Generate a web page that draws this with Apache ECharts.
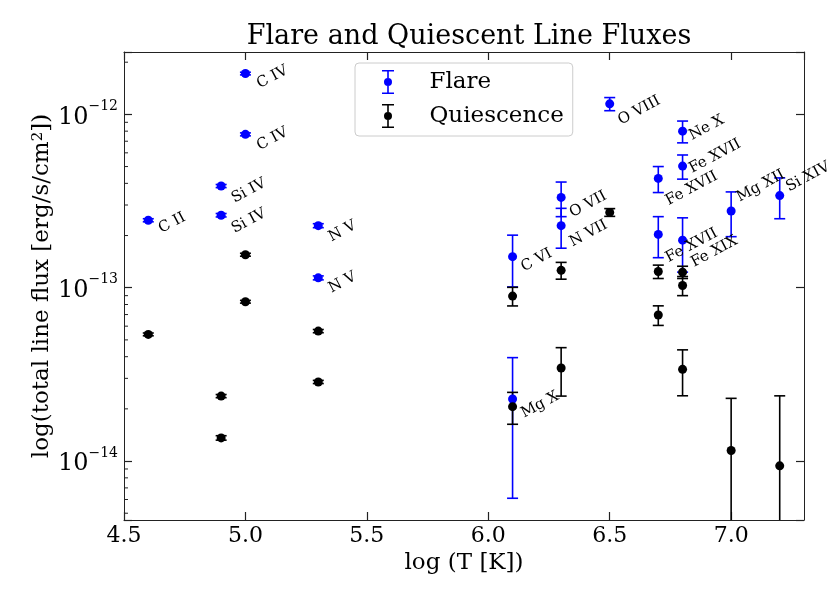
<!DOCTYPE html>
<html>
<head>
<meta charset="utf-8">
<title>Flare and Quiescent Line Fluxes</title>
<script src="https://cdn.jsdelivr.net/npm/echarts@6.0.0/dist/echarts.min.js"></script>
<style>
  html, body { margin: 0; padding: 0; background: #fff; }
  #main { width: 830px; height: 598px; }
</style>
</head>
<body>
<div id="main"></div>
<script>
// flare lines: temperature, flux, error, ion
var flareT = [4.6, 4.9, 4.9, 5.0, 5.0, 5.3, 5.3, 6.1, 6.1, 6.3, 6.3, 6.5, 6.7, 6.7, 6.8, 6.8, 6.8, 7.0, 7.2];
var flareIon = ['C II', 'Si IV', 'Si IV', 'C IV', 'C IV', 'N V', 'N V', 'C VI', 'Mg X', 'O VII', 'N VII', 'O VIII',
                'Fe XVII', 'Fe XVII', 'Ne X', 'Fe XVII', 'Fe XIX', 'Mg XII', 'Si XIV'];
var flareFlux = [2.45e-13, 3.86e-13, 2.62e-13, 1.72e-12, 7.67e-13, 2.28e-13, 1.14e-13, 1.51e-13, 2.28e-14, 3.32e-13, 2.28e-13, 1.15e-12,
                 4.27e-13, 2.03e-13, 8.0e-13, 5.03e-13, 1.88e-13, 2.77e-13, 3.40e-13];
var flareErr = [0.05e-13, 0.08e-13, 0.06e-13, 0.03e-12, 0.15e-13, 0.06e-13, 0.03e-13, 0.50e-13, 1.67e-14, 0.75e-13, 0.59e-13, 0.10e-12,
                0.73e-13, 0.54e-13, 1.15e-13, 0.80e-13, 0.65e-13, 0.80e-13, 0.90e-13];

// quiescent lines
var quietT = [4.6, 4.9, 4.9, 5.0, 5.0, 5.3, 5.3, 6.1, 6.1, 6.3, 6.3, 6.5, 6.7, 6.7, 6.8, 6.8, 6.8, 7.0, 7.2];
var quietFlux = [5.38e-14, 2.37e-14, 1.36e-14, 1.55e-13, 8.3e-14, 5.62e-14, 2.86e-14, 8.95e-14, 2.06e-14, 1.26e-13, 3.44e-14, 2.72e-13,
                 1.24e-13, 6.96e-14, 1.23e-13, 1.03e-13, 3.38e-14, 1.15e-14, 9.38e-15];
var quietErr = [0.1e-14, 0.05e-14, 0.04e-14, 0.03e-13, 0.15e-14, 0.12e-14, 0.06e-14, 1.1e-14, 0.43e-14, 0.14e-13, 1.07e-14, 0.14e-13,
                0.11e-13, 0.9e-14, 0.1e-13, 0.13e-13, 1.0e-14, 1.15e-14, 1.44e-14];

// axis ranges / ticks
var xMin = 4.5, xMax = 7.3, xStep = 0.5;
var yMin = 4.57e-15, yMax = 2.29e-12;
var yMinorMult = [2, 3, 4, 5, 6, 7, 8, 9];
var yDecades = [-15, -14, -13, -12];

// where each ion name sits relative to its dot (px right, px down)
var labelOffsets = [[10, 8], [10, 12], [10, 13], [11, 10], [11, 11], [10, 11], [10, 10], [8, 10], [8, 14], [8, 15], [8, 16], [8, 16],
                    [7, 22], [7, 23], [6, 4], [6, 2], [8, 22], [5, -14], [6, -9]];

var FONT = 'DejaVu Serif';
var BLUE = '#0000ff';
var AXIS_C = '#222';
var DOT = 9;

var myChart = echarts.init(document.getElementById('main'));

function errData(t, f, e) {
	var out = [];
	for (var i = 0; i < t.length; i++) out.push([t[i], f[i], e[i]]);
	return out;
}

// vertical error bar with caps, bottom clamped to the axis
function errRender(color) {
	return function (params, api) {
		var x = api.value(0), v = api.value(1), e = api.value(2);
		var lo = v - e, cut = false;
		if (lo <= yMin) { lo = yMin; cut = true; }
		var top = api.coord([x, v + e]);
		var bot = api.coord([x, lo]);
		var cap = 5.5;
		var st = { stroke: color, lineWidth: 1.6 };
		var kids = [
			{ type: 'line', shape: { x1: top[0], y1: top[1], x2: bot[0], y2: bot[1] }, style: st },
			{ type: 'line', shape: { x1: top[0] - cap, y1: top[1], x2: top[0] + cap, y2: top[1] }, style: st }
		];
		if (!cut) kids.push({ type: 'line', shape: { x1: bot[0] - cap, y1: bot[1], x2: bot[0] + cap, y2: bot[1] }, style: st });
		return { type: 'group', children: kids };
	};
}

var flarePts = [];
for (var i = 0; i < flareT.length; i++) {
	var o = labelOffsets[i];
	flarePts.push({
		name: flareIon[i],
		value: [flareT[i], flareFlux[i]],
		label: { position: [DOT / 2 + o[0] + 5, DOT / 2 + o[1] + 8] }
	});
}
var quietPts = [];
for (var j = 0; j < quietT.length; j++) quietPts.push([quietT[j], quietFlux[j]]);

// legend icon: errorbar with dot
var ebIcon = 'path://M0 0H12V1.6H0Z M5.2 1.6H6.8V8H5.2Z M5.2 16H6.8V22.4H5.2Z M0 22.4H12V24H0Z ' +
             'M2 12A4 4 0 1 0 10 12A4 4 0 1 0 2 12Z';

function yLabel(v) {
	var lg = Math.log(v) / Math.LN10;
	var e = Math.round(lg);
	if (Math.abs(lg - e) > 1e-6) return '';
	return '{b|10}{s|\u2212' + (-e) + '}';
}

var option = {
	animation: false,
	backgroundColor: '#fff',
	title: {
		text: 'Flare and Quiescent Line Fluxes',
		left: 464,
		top: 18,
		textAlign: 'center',
		textStyle: { fontFamily: FONT, fontSize: 27, fontWeight: 'normal', color: '#000' }
	},
	legend: {
		orient: 'vertical',
		left: 355,
		top: 63,
		padding: [7, 9, 8, 27],
		itemGap: 10,
		itemWidth: 13,
		itemHeight: 24,
		borderColor: '#cccccc',
		borderWidth: 1,
		borderRadius: 4,
		backgroundColor: 'rgba(255,255,255,0.8)',
		textStyle: { fontFamily: FONT, fontSize: 23, color: '#000', padding: [0, 0, 0, 30] },
		data: [
			{ name: 'Flare', icon: ebIcon, itemStyle: { color: BLUE } },
			{ name: 'Quiescence', icon: ebIcon, itemStyle: { color: '#000' } }
		]
	},
	grid: { left: 124, right: 26, top: 52, bottom: 78, containLabel: false },
	xAxis: [
		{
			type: 'value', min: xMin, max: xMax, interval: xStep, position: 'bottom',
			name: 'log (T [K])', nameLocation: 'middle', nameGap: 32,
			nameTextStyle: { fontFamily: FONT, fontSize: 23, color: '#000' },
			axisLine: { lineStyle: { color: AXIS_C, width: 1 } },
			axisTick: { inside: true, length: 8, lineStyle: { color: AXIS_C, width: 1.2 } },
			axisLabel: {
				margin: 5, fontFamily: FONT, fontSize: 22, color: '#000', showMaxLabel: false,
				formatter: function (v) { return Math.abs(v / xStep - Math.round(v / xStep)) < 1e-6 ? v.toFixed(1) : ''; }
			},
			splitLine: { show: false }
		},
		{
			type: 'value', min: xMin, max: xMax, interval: xStep, position: 'top',
			axisLine: { lineStyle: { color: AXIS_C, width: 1 } },
			axisTick: { inside: true, length: 8, lineStyle: { color: AXIS_C, width: 1.2 } },
			axisLabel: { show: false },
			splitLine: { show: false }
		}
	],
	yAxis: [
		{
			type: 'log', logBase: 10, min: yMin, max: yMax, position: 'left',
			name: 'log(total line flux [erg/s/cm{s|2}])', nameLocation: 'middle', nameGap: 70,
			nameMoveOverlap: false,
			nameTextStyle: {
				fontFamily: FONT, fontSize: 23, color: '#000',
				rich: { s: { fontFamily: FONT, fontSize: 15, verticalAlign: 'top', lineHeight: 17 } }
			},
			axisLine: { lineStyle: { color: AXIS_C, width: 1 } },
			axisTick: { inside: true, length: 8, lineStyle: { color: AXIS_C, width: 1.2 } },
			axisLabel: {
				margin: 6, color: '#000', formatter: yLabel,
				rich: {
					b: { fontFamily: FONT, fontSize: 24, lineHeight: 30, verticalAlign: 'bottom' },
					s: { fontFamily: FONT, fontSize: 14, lineHeight: 18, verticalAlign: 'top' }
				}
			},
			splitLine: { show: false }
		},
		{
			type: 'log', logBase: 10, min: yMin, max: yMax, position: 'right',
			axisLine: { lineStyle: { color: AXIS_C, width: 1 } },
			axisTick: { inside: true, length: 8, lineStyle: { color: AXIS_C, width: 1.2 } },
			axisLabel: { show: false },
			splitLine: { show: false }
		}
	],
	series: [
		{
			name: 'Flare', type: 'custom', xAxisIndex: 0, yAxisIndex: 0,
			renderItem: errRender(BLUE), encode: { x: 0, y: 1 },
			data: errData(flareT, flareFlux, flareErr), z: 2
		},
		{
			name: 'Flare', type: 'scatter', xAxisIndex: 0, yAxisIndex: 0,
			symbol: 'circle', symbolSize: DOT, itemStyle: { color: BLUE, opacity: 1 },
			label: {
				show: true, formatter: '{b}', rotate: 28, align: 'left', verticalAlign: 'bottom',
				fontFamily: FONT, fontSize: 15, color: '#000'
			},
			labelLayout: { hideOverlap: false },
			emphasis: { disabled: true },
			data: flarePts, z: 2
		},
		{
			name: 'Quiescence', type: 'custom', xAxisIndex: 0, yAxisIndex: 0,
			renderItem: errRender('#000'), encode: { x: 0, y: 1 },
			data: errData(quietT, quietFlux, quietErr), z: 2
		},
		{
			name: 'Quiescence', type: 'scatter', xAxisIndex: 0, yAxisIndex: 0,
			symbol: 'circle', symbolSize: DOT, itemStyle: { color: '#000', opacity: 1 },
			emphasis: { disabled: true },
			data: quietPts, z: 2
		}
	]
};

myChart.setOption(option);

// minor log ticks on the left spine
var minor = [];
var x0 = myChart.convertToPixel({ xAxisIndex: 0 }, xMin);
for (var d = 0; d < yDecades.length; d++) {
	for (var k = 0; k < yMinorMult.length; k++) {
		var val = yMinorMult[k] * Math.pow(10, yDecades[d]);
		if (val <= yMin || val >= yMax) continue;
		var py = myChart.convertToPixel({ yAxisIndex: 0 }, val);
		minor.push({
			type: 'line', silent: true, z: 5,
			shape: { x1: x0, y1: py, x2: x0 + 4, y2: py },
			style: { stroke: AXIS_C, lineWidth: 1 }
		});
	}
}
myChart.setOption({ graphic: minor });
</script>
</body>
</html>
